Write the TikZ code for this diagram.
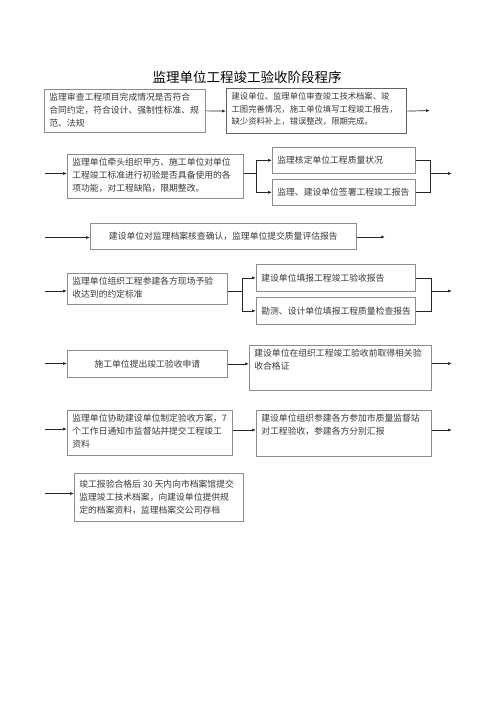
\documentclass[tikz,border=0pt]{standalone}
\usepackage{fontspec}
\setmainfont{Noto Sans CJK SC}
\usetikzlibrary{arrows.meta}
\definecolor{boxgray}{gray}{0.55}
\definecolor{boxdark}{gray}{0.38}
\definecolor{txtgray}{gray}{0.22}
\definecolor{linegray}{gray}{0.15}
\newcommand\bxfont{\fontsize{8.8}{12.8}\selectfont}
\newcommand\mybox[8][]{\node[box,#1] (#2) at (#3,#4) {\parbox[c][\dimexpr#6pt-8pt\relax][#7]{\dimexpr#5pt-10pt\relax}{\raggedright #8}};}
\begin{document}
\begin{tikzpicture}[x=1pt,y=-1pt,
  box/.style={draw=boxgray, line width=0.7pt, inner xsep=5pt, inner ysep=4pt, anchor=north west, text=txtgray, font=\bxfont},
  thickbox/.style={draw=boxdark, line width=1.3pt},
  conn/.style={draw=linegray, line width=0.7pt},
  arr/.style={conn, -{Latex[length=4pt,width=3pt]}},
  titlefont/.style={font=\fontsize{13.5}{16}\selectfont, text=black}]
\fill[white] (0,0) rectangle (500,707);
\useasboundingbox (0,0) rectangle (500,707);

\node[titlefont] (title) at (247,77) {监理单位工程竣工验收阶段程序};

% row 1
\mybox{b1}{44}{89}{161}{43}{t}{监理审查工程项目完成情况是否符合\\合同约定，符合设计、强制性标准、规\\范、法规}
\mybox[thickbox,font=\fontsize{8.3}{12.6}\selectfont]{b2}{226}{88}{180}{45}{t}{建设单位、监理单位审查竣工技术档案、竣\\工图完善情况，施工单位填写工程竣工报告，\\缺少资料补上，错误整改，限期完成。}
\coordinate (o1) at (430,110.5);
\draw[arr] (b1.east) -- (b2.west);
\draw[arr] (b2.east) -- (o1);

% row 2
\mybox{b3}{67}{154}{176}{44}{t}{监理单位牵头组织甲方、施工单位对单位\\工程竣工标准进行初验是否具备使用的各\\项功能，对工程缺陷，限期整改。}
\mybox{b4}{272}{147}{143}{26}{c}{监理核定单位工程质量状况}
\mybox{b5}{272}{179}{143}{26}{c}{监理、建设单位签署工程竣工报告}
\coordinate (i2) at (45,173.5);
\coordinate (j2) at (256,173.5);
\coordinate (m2) at (430,173.5);
\coordinate (o2) at (452,173.5);
\draw[arr] (i2) -- (i2 -| b3.west);
\draw[conn] (j2 -| b3.east) -- (j2);
\draw[arr] (j2) |- (b4.west);
\draw[arr] (j2) |- (b5.west);
\draw[conn] (b4.east) -| (m2);
\draw[conn] (b5.east) -| (m2);
\draw[arr] (m2) -- (o2);

% row 3
\mybox{b6}{90}{222.5}{266}{26.5}{c}{\centering 建设单位对监理档案核查确认，监理单位提交质量评估报告}
\coordinate (i3) at (45,237.5);
\coordinate (o3) at (385,237);
\draw[arr] (i3) -- (i3 -| b6.west);
\draw[arr] (o3 -| b6.east) -- (o3);

% row 4
\mybox{b7}{67}{273}{160}{31}{t}{监理单位组织工程参建各方现场予验\\收达到的约定标准}
\mybox{b8}{256}{264}{159}{27}{c}{建设单位填报工程竣工验收报告}
\mybox{b9}{256}{297}{159}{27}{c}{勘测、设计单位填报工程质量检查报告}
\coordinate (i4) at (45,291);
\coordinate (j4) at (242,291);
\coordinate (m4) at (431,291);
\coordinate (o4) at (452,291);
\draw[arr] (i4) -- (i4 -| b7.west);
\draw[conn] (j4 -| b7.east) -- (j4);
\draw[arr] (j4) |- (b8.west);
\draw[arr] (j4) |- (b9.west);
\draw[conn] (b8.east) -| (m4);
\draw[conn] (b9.east) -| (m4);
\draw[arr] (m4) -- (o4);

% row 5
\mybox{b10}{67}{350}{160}{27}{c}{\centering 施工单位提出竣工验收申请}
\mybox{b11}{249}{345}{182}{45}{t}{建设单位在组织工程竣工验收前取得相关验\\收合格证}
\coordinate (i5) at (45,363.5);
\coordinate (o5) at (452,363.5);
\draw[arr] (i5) -- (i5 -| b10.west);
\draw[arr] (b10.east) -- (b10.east -| b11.west);
\draw[arr] (o5 -| b11.east) -- (o5);

% row 6
\mybox{b12}{67}{410}{165}{45}{t}{监理单位协助建设单位制定验收方案，7\\个工作日通知市监督站并提交工程竣工\\资料}
\mybox{b13}{256}{410}{175}{46}{t}{建设单位组织参建各方参加市质量监督站\\对工程验收，参建各方分别汇报}
\coordinate (i6) at (45,429);
\coordinate (r6) at (240,430);
\coordinate (o6) at (452,430);
\draw[arr] (i6) -- (i6 -| b12.west);
\draw[arr] (r6 -| b12.east) -- (r6 -| b13.west);
\draw[arr] (o6 -| b13.east) -- (o6);

% row 7
\mybox{b14}{74}{473}{169}{48}{c}{竣工报验合格后 30 天内向市档案馆提交\\监理竣工技术档案，向建设单位提供规\\定的档案资料，监理档案交公司存档}
\coordinate (i7) at (45,493.5);
\draw[arr] (i7) -- (i7 -| b14.west);
\end{tikzpicture}
\end{document}
